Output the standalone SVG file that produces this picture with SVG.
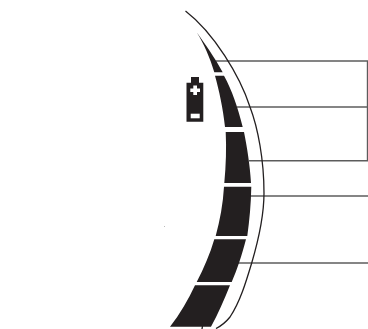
<svg xmlns="http://www.w3.org/2000/svg" width="368" height="329" viewBox="0 0 368 329">
<style>
.seg{fill:#231f20}
.lead{fill:none;stroke:#5c5c5c;stroke-width:1.4}
.outer{fill:none;stroke:#231f20;stroke-width:1.3}
</style>
<rect width="368" height="329" fill="#fff"/>
<g id="connectors">
<path class="lead" d="M216 61H367.5V160.7H249"/>
<path class="lead" d="M237 107H367.5"/>
<path class="lead" d="M250 196H368"/>
<path class="lead" d="M238 263H368"/>
</g>
<g id="outer-curve">
<path class="outer" d="M185.500 11C214 33 240 76 250 107C258 128 264 160 264 193C264 220 257 245 251.700 263C246 282 240 302 230 317C226 322 221 326 216 328.500"/>
<path class="outer" d="M202 329L202.500 326"/>
</g>
<g id="segments">
<path class="seg" d="M196.700 32.300C205 44 215 58 222.700 72.300H214.300C210 58 204 44 196.700 32.300Z"/>
<path class="seg" d="M215 75.700H224C232 90 238 108 242.700 127H225C223 108 219 90 215 75.700Z"/>
<path class="seg" d="M225.700 132H244C247 147 250 165 251 183H224.300C226 165 226.500 148 225.700 132Z"/>
<path class="seg" d="M224 186.700H251.300C251 204 249.500 220 247.300 236H215.700C220 220 223 204 224 186.700Z"/>
<path class="seg" d="M214.300 239.300H246C242 255 237 270 231.700 282H196.700C204 268 210 254 214.300 239.300Z"/>
<path class="seg" d="M195 285.300H230C224 300 218 314 211 326.700H170C180 314 188 300 195 285.300Z"/>
</g>
<g id="battery">
<path class="seg" d="M191 82.700V77H199V82.700H203.300V121.700H186.500V82.700Z"/>
<path fill="#fff" d="M193.300 85.500H197V88.500H200V92H197V95H193.300V92H190.300V88.500H193.300Z"/>
<rect x="190.700" y="113.700" width="9" height="4.600" fill="#fff"/>
</g>
<rect id="speck" x="164" y="226" width="1" height="1" fill="#bbb"/>
</svg>
